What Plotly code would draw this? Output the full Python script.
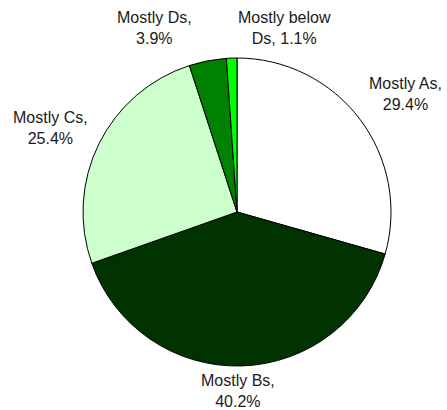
import plotly.graph_objects as go

categories = ["Mostly As", "Mostly Bs", "Mostly Cs", "Mostly Ds", "Mostly below Ds"]
values = [29.4, 40.2, 25.4, 3.9, 1.1]
label_texts = ["Mostly As,<br>29.4%", "Mostly Bs,<br>40.2%", "Mostly Cs,<br>25.4%",
               "Mostly Ds,<br>3.9%", "Mostly below<br>Ds, 1.1%"]
colors = ["#FFFFFF", "#003300", "#CCFFCC", "#008000", "#00FF00"]

W, H = 447, 410
cx, cy, r = 237, 212, 154

fig = go.Figure(go.Pie(
    labels=categories, values=values, sort=False, direction="clockwise", rotation=0,
    marker=dict(colors=colors, line=dict(color="#000000", width=1)),
    textinfo="none", hoverinfo="label+percent", showlegend=False,
    domain=dict(x=[(cx - r) / W, (cx + r) / W], y=[1 - (cy + r) / H, 1 - (cy - r) / H]),
))

label_pos = [(405, 94), (238, 391), (50, 128), (154, 28), (284, 28)]
for t, (x, y) in zip(label_texts, label_pos):
    fig.add_annotation(x=x / W, y=1 - y / H, xref="paper", yref="paper", text=t,
                       showarrow=False, xanchor="center", yanchor="middle",
                       font=dict(family="Liberation Sans, Arial", size=16, color="#1a1a1a"))

fig.update_layout(width=W, height=H, margin=dict(l=0, r=0, t=0, b=0),
                  paper_bgcolor="white", plot_bgcolor="white")
fig.write_html("out.html", config={"displayModeBar": False},
               post_script="document.body.style.margin='0';document.body.style.overflow='hidden';")
